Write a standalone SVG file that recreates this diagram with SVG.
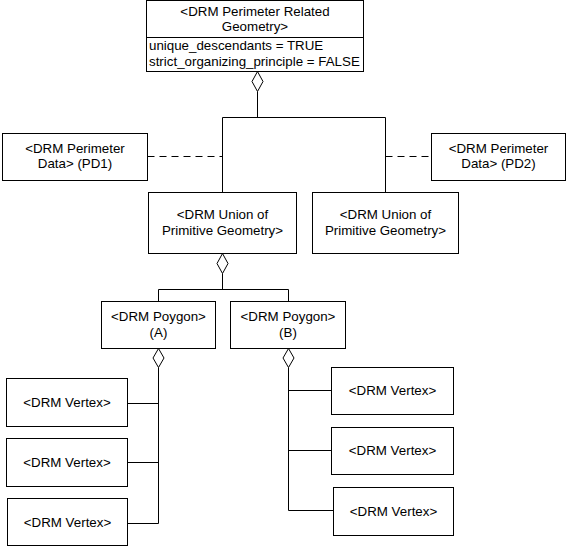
<svg xmlns="http://www.w3.org/2000/svg" width="567" height="547" viewBox="0 0 567 547">
<style>
.box{fill:#fff;stroke:#000;stroke-width:1}
.ln{fill:none;stroke:#000;stroke-width:1}
.dash{fill:none;stroke:#000;stroke-width:1;stroke-dasharray:7 5}
.dia{fill:#fff;stroke:#000;stroke-width:1}
text{font-family:"Liberation Sans",Arial,sans-serif;font-size:13.33px;fill:#000}
.c{text-anchor:middle}
</style>
<rect width="567" height="547" fill="#fff"/>
<g id="connectors">
<path class="ln" d="M257.5,91.5 V117.5"/>
<path class="ln" d="M222.5,192.5 V117.5 H385.5 V192.5"/>
<path class="dash" d="M147.5,156.5 H222.5"/>
<path class="dash" d="M385.5,156.5 H431.5"/>
<path class="ln" d="M222.5,273.5 V289.5"/>
<path class="ln" d="M158.5,301.5 V289.5 H288.5 V301.5"/>
<path class="ln" d="M158.5,367.5 V523.5"/>
<path class="ln" d="M127.5,403.5 H158.5 M127.5,462.5 H158.5 M127.5,523.5 H158.5"/>
<path class="ln" d="M288.5,367.5 V510.5"/>
<path class="ln" d="M288.5,390.5 H331.5 M288.5,450.5 H331.5 M288.5,510.5 H333.5"/>
<polygon class="dia" points="257.5,71.5 263,81.5 257.5,91.5 252,81.5"/>
<polygon class="dia" points="222.5,253.5 228,263.5 222.5,273.5 217,263.5"/>
<polygon class="dia" points="158.5,348.5 164,358 158.5,367.5 153,358"/>
<polygon class="dia" points="288.5,348.5 294,358 288.5,367.5 283,358"/>
</g>
<g id="perimeter-related-geometry">
<rect class="box" x="146.5" y="0.5" width="217" height="71"/>
<path class="ln" d="M146.5,37.5 H363.5"/>
<text class="c" x="255" y="16">&lt;DRM Perimeter Related</text>
<text class="c" x="255" y="31">Geometry&gt;</text>
<text x="149" y="50">unique_descendants = TRUE</text>
<text x="149" y="66">strict_organizing_principle = FALSE</text>
</g>
<g id="pd1">
<rect class="box" x="2.5" y="133.5" width="145" height="47"/>
<text class="c" x="75" y="153">&lt;DRM Perimeter</text>
<text class="c" x="75" y="168">Data&gt; (PD1)</text>
</g>
<g id="pd2">
<rect class="box" x="431.5" y="133.5" width="134" height="47"/>
<text class="c" x="498.5" y="153">&lt;DRM Perimeter</text>
<text class="c" x="498.5" y="168">Data&gt; (PD2)</text>
</g>
<g id="union-left">
<rect class="box" x="148.5" y="192.5" width="148" height="61"/>
<text class="c" x="222.5" y="219">&lt;DRM Union of</text>
<text class="c" x="222.5" y="235">Primitive Geometry&gt;</text>
</g>
<g id="union-right">
<rect class="box" x="312.5" y="192.5" width="146" height="61"/>
<text class="c" x="385.5" y="219">&lt;DRM Union of</text>
<text class="c" x="385.5" y="235">Primitive Geometry&gt;</text>
</g>
<g id="polygon-a">
<rect class="box" x="101.5" y="301.5" width="114" height="47"/>
<text class="c" x="158.5" y="321">&lt;DRM Poygon&gt;</text>
<text class="c" x="158.5" y="337">(A)</text>
</g>
<g id="polygon-b">
<rect class="box" x="230.5" y="301.5" width="115" height="47"/>
<text class="c" x="288" y="321">&lt;DRM Poygon&gt;</text>
<text class="c" x="288" y="337">(B)</text>
</g>
<g id="vertex-a1">
<rect class="box" x="6.5" y="378.5" width="121" height="48"/>
<text class="c" x="67" y="407">&lt;DRM Vertex&gt;</text>
</g>
<g id="vertex-a2">
<rect class="box" x="6.5" y="438.5" width="121" height="48"/>
<text class="c" x="67" y="467">&lt;DRM Vertex&gt;</text>
</g>
<g id="vertex-a3">
<rect class="box" x="7.5" y="498.5" width="120" height="47"/>
<text class="c" x="67.5" y="527">&lt;DRM Vertex&gt;</text>
</g>
<g id="vertex-b1">
<rect class="box" x="331.5" y="367.5" width="122" height="47"/>
<text class="c" x="392.5" y="395">&lt;DRM Vertex&gt;</text>
</g>
<g id="vertex-b2">
<rect class="box" x="331.5" y="427.5" width="122" height="47"/>
<text class="c" x="392.5" y="455">&lt;DRM Vertex&gt;</text>
</g>
<g id="vertex-b3">
<rect class="box" x="333.5" y="487.5" width="120" height="48"/>
<text class="c" x="393.5" y="516">&lt;DRM Vertex&gt;</text>
</g>
</svg>
